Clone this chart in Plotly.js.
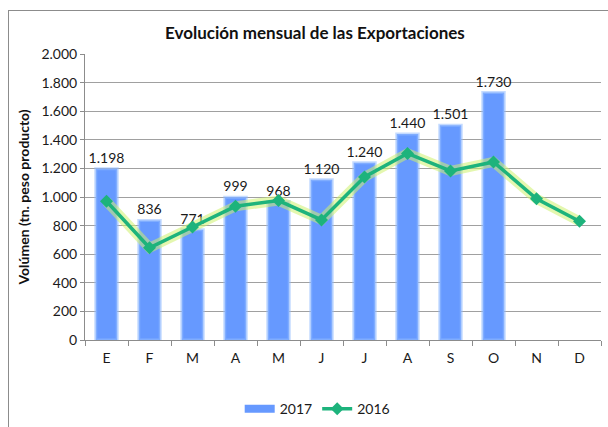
<!DOCTYPE html>
<html><head><meta charset="utf-8">
<script src="https://cdn.plot.ly/plotly-3.0.1.min.js"></script>
<style>
html,body{margin:0;padding:0;background:#fff;overflow:hidden;}
#wrap{position:relative;width:608px;height:427px;}
#chart{width:608px;height:427px;}
#frame{position:absolute;left:8px;top:10px;width:640px;height:450px;border:1.5px solid #8c8c8c;pointer-events:none;}
</style></head>
<body>
<div id="wrap"><div id="chart"></div><div id="frame"></div></div>
<script>
const months = ['E','F','M','A','M','J','J','A','S','O','N','D'];
const monthIds = ['Ene','Feb','Mar','Abr','May','Jun','Jul','Ago','Sep','Oct','Nov','Dic'];
const exp2017 = [1198, 836, 771, 999, 968, 1120, 1240, 1440, 1501, 1730, null, null];
const exp2016 = [970, 645, 790, 935, 975, 840, 1140, 1305, 1182, 1245, 988, 830];
const yTicks = [0,200,400,600,800,1000,1200,1400,1600,1800,2000];

const font = 'Lato, sans-serif';

const traces = [
  {
    type:'bar', name:'2017', x: monthIds, y: exp2017, showlegend:false,
    marker:{color:'#6699ff', line:{color:'rgba(150,190,255,0.55)', width:3}},
    width:0.5,
    texttemplate:'%{y:,d}', textposition:'outside', cliponaxis:false, constraintext:'none',
    textfont:{family:font, size:14, color:'#1a1a1a'},
    hoverinfo:'skip'
  },
  {
    type:'scatter', mode:'lines', name:'2017', x:[null], y:[null], showlegend:true,
    line:{color:'#6699ff', width:8}, hoverinfo:'skip'
  },
  {
    type:'scatter', mode:'lines', x: monthIds, y: exp2016, showlegend:false,
    line:{color:'rgba(205,240,110,0.55)', width:10}, hoverinfo:'skip'
  },
  {
    type:'scatter', mode:'lines+markers', name:'2016', x: monthIds, y: exp2016,
    line:{color:'#1db37c', width:3.5},
    marker:{symbol:'diamond', size:10, color:'#1db37c'}
  }
];

const layout = {
  width:608, height:427,
  margin:{l:85, r:7, t:54, b:87},
  paper_bgcolor:'#fff', plot_bgcolor:'#fff',
  separators:',.',
  font:{family:font, size:14, color:'#1a1a1a'},
  title:{text:'<b>Evolución mensual de las Exportaciones</b>', x:0.518, xanchor:'center', y:0.922, yanchor:'middle',
         font:{family:font, size:17, color:'#111'}},
  bargap:0.5,
  xaxis:{
    type:'category', tickmode:'array', tickvals: monthIds, ticktext: months,
    showgrid:false, showline:true, linecolor:'#8c8c8c', linewidth:1,
    ticks:'outside', tickson:'boundaries', ticklen:5, tickcolor:'#8c8c8c', ticklabelstandoff:5,
    tickfont:{family:font, size:14, color:'#1a1a1a'}, range:[-0.5,11.5], fixedrange:true, automargin:false
  },
  yaxis:{
    range:[0,2000], tickmode:'array', tickvals:yTicks, tickformat:',d',
    showgrid:true, gridcolor:'#a0a0a0', gridwidth:1,
    showline:true, linecolor:'#8c8c8c', linewidth:1,
    ticks:'outside', ticklen:4, tickcolor:'#8c8c8c', zeroline:false, automargin:false,
    tickfont:{family:font, size:14, color:'#1a1a1a'},
    title:{text:'<b>Volúmen (tn. peso producto)</b>', standoff:8, font:{family:font, size:14, color:'#111'}}
  },
  legend:{orientation:'h', x:0.45, xanchor:'center', yref:'container', y:0.042, yanchor:'middle',
          font:{family:font, size:14, color:'#1a1a1a'}, traceorder:'normal'},
  showlegend:true
};

Plotly.newPlot('chart', traces, layout, {displayModeBar:false, staticPlot:true});
</script>
</body></html>
